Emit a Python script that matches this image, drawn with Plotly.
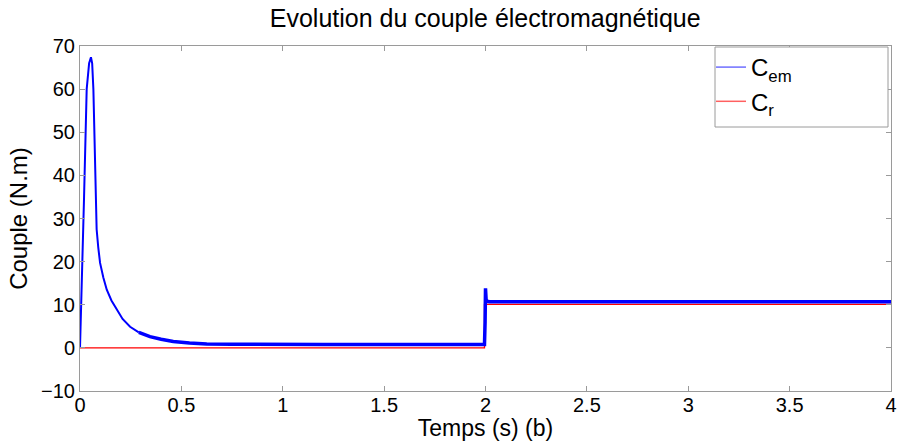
import plotly.graph_objects as go

# Electromagnetic torque C_em (N.m) vs time (s): start-up transient
t_em_start = [0, 0.005, 0.01, 0.02, 0.033, 0.045, 0.054, 0.06, 0.066, 0.074, 0.077,
              0.082, 0.09, 0.099, 0.115, 0.132, 0.155, 0.181, 0.21, 0.247, 0.29]
c_em_start = [0, 8, 17, 35, 60, 66, 67.4, 66, 60, 40, 35.5,
              27.5, 23.3, 19.7, 16.3, 13.5, 11, 8.8, 6.7, 4.9, 3.6]
# C_em: settled (rippled) part, then load step at t = 2 s
t_em_steady = [0.29, 0.345, 0.4, 0.46, 0.54, 0.625, 0.75, 0.9, 1.2, 1.5, 1.8, 1.995,
               1.998, 2.0, 2.003, 2.008, 2.02, 2.5, 3.0, 3.5, 4.0]
c_em_steady = [3.6, 2.6, 2.0, 1.5, 1.15, 0.9, 0.85, 0.8, 0.8, 0.8, 0.8, 0.8,
               6.0, 13.8, 11.2, 10.8, 10.7, 10.7, 10.7, 10.7, 10.7]

# Load torque C_r (N.m)
t_r = [0, 1.995, 1.995, 4.0]
c_r = [0, 0, 10.1, 10.1]

x_ticks = [0, 0.5, 1, 1.5, 2, 2.5, 3, 3.5, 4]
x_labels = ["0", "0.5", "1", "1.5", "2", "2.5", "3", "3.5", "4"]
y_ticks = [-10, 0, 10, 20, 30, 40, 50, 60, 70]

BLUE = "#0000ff"
RED = "#ff0000"
GRAY = "#9a9a9a"

fig = go.Figure()
fig.add_trace(go.Scatter(x=t_r, y=c_r, mode="lines", showlegend=False,
                         line=dict(color=RED, width=1.3)))
fig.add_trace(go.Scatter(x=t_em_start, y=c_em_start, mode="lines", showlegend=False,
                         line=dict(color=BLUE, width=2)))
fig.add_trace(go.Scatter(x=t_em_steady, y=c_em_steady, mode="lines", showlegend=False,
                         line=dict(color=BLUE, width=3.5)))
# legend entries (thin sample lines as in the original legend)
fig.add_trace(go.Scatter(x=[None], y=[None], mode="lines", name="C<sub>em</sub>",
                         line=dict(color="#6e6eff", width=1.5)))
fig.add_trace(go.Scatter(x=[None], y=[None], mode="lines", name="C<sub>r</sub>",
                         line=dict(color="#ff6060", width=1.5)))

font_family = "Liberation Sans, Arial, sans-serif"
axis_common = dict(showgrid=False, zeroline=False, showline=True,
                   linecolor=GRAY, linewidth=1, mirror="ticks",
                   ticks="inside", ticklen=5, tickcolor=GRAY,
                   automargin=False,
                   tickfont=dict(family=font_family, size=20, color="black"))

L, R, T, B, W, H = 80, 10, 46, 50, 901, 441
pw, ph = W - L - R, H - T - B

def px_x(p):
    return (p - L) / pw

def px_y(p):
    return (H - B - p) / ph

fig.update_layout(
    width=W, height=H,
    margin=dict(l=L, r=R, t=T, b=B),
    paper_bgcolor="white", plot_bgcolor="white",
    title=dict(text="Evolution du couple électromagnétique",
               x=0.5385, xanchor="center", y=0.958, yanchor="middle",
               font=dict(family=font_family, size=25, color="black")),
    xaxis=dict(range=[0, 4], tickvals=x_ticks, ticktext=x_labels,
               ticklabelstandoff=-4,
               title=dict(text="Temps (s) (b)", standoff=3,
                          font=dict(family=font_family, size=23, color="black")),
               **axis_common),
    yaxis=dict(range=[-10, 70], tickvals=y_ticks,
               title=dict(text="Couple (N.m)", standoff=6,
                          font=dict(family=font_family, size=24, color="black")),
               **axis_common),
    legend=dict(x=px_x(711), y=px_y(45), xanchor="left", yanchor="top",
                borderwidth=0, bgcolor="rgba(0,0,0,0)",
                itemwidth=30,
                font=dict(family=font_family, size=24, color="black"),
                tracegroupgap=0),
    showlegend=True,
    shapes=[dict(type="rect", xref="paper", yref="paper",
                 x0=px_x(715), x1=px_x(888), y0=px_y(127), y1=px_y(47),
                 line=dict(color=GRAY, width=1), fillcolor="white", layer="above")],
)

fig.write_html("out.html")
